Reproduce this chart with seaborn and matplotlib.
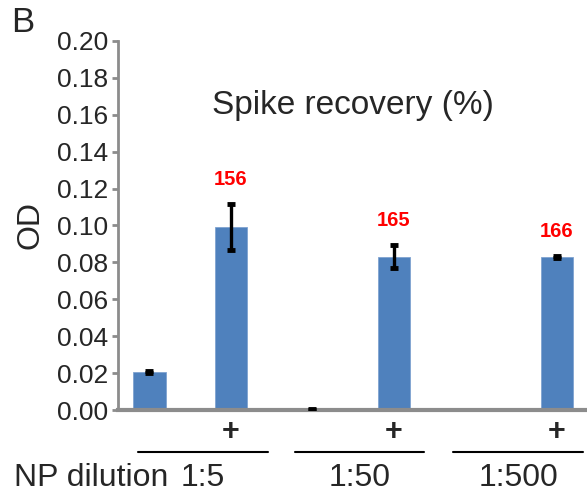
import matplotlib
matplotlib.use("Agg")
import matplotlib.pyplot as plt
import matplotlib.transforms as mtransforms
import seaborn as sns
import pandas as pd

# ---- data ----
conditions = ["1:5 -", "1:5 +", "1:50 -", "1:50 +", "1:500 -", "1:500 +"]
od_values = [0.0205, 0.099, 0.0005, 0.083, 0.0, 0.083]
od_errors = [0.0006, 0.0125, 0.0003, 0.0063, 0.0, 0.0004]
spike_labels = ["", "156", "", "165", "", "166"]
spike_marks = ["", "+", "", "+", "", "+"]
dilutions = ["1:5", "1:50", "1:500"]
y_ticks = [0.00, 0.02, 0.04, 0.06, 0.08, 0.10, 0.12, 0.14, 0.16, 0.18, 0.20]

df = pd.DataFrame({"cond": conditions, "od": od_values, "err": od_errors})

sns.set_style("white")
plt.rcParams["font.family"] = ["Liberation Sans", "DejaVu Sans"]

fig = plt.figure(figsize=(5.87, 4.98), dpi=100)
ax = fig.add_axes([0.201, 0.1767, 0.797, 0.741])

sns.barplot(data=df, x="cond", y="od", color="#4F81BD", width=0.4,
            saturation=1, errorbar=None, ax=ax, edgecolor="#7FA3D1", linewidth=0.6)
idx = [i for i, e in enumerate(od_errors) if e > 0]
ax.errorbar(idx, [od_values[i] for i in idx], yerr=[od_errors[i] for i in idx],
            fmt="none", ecolor="black", elinewidth=2.4, capsize=3, capthick=3.5, zorder=5)

for i, lab in enumerate(spike_labels):
    if lab:
        ax.text(i, od_values[i] + od_errors[i] + 0.0135, lab, color="red",
                fontsize=14.5, fontweight="bold", ha="center", va="center")

ax.set_xlim(-0.386, 5.354)
ax.set_ylim(0, 0.20)
ax.set_yticks(y_ticks)
ax.set_yticklabels([f"{t:.2f}" for t in y_ticks], fontsize=19)
ax.set_xticks([])
ax.set_xlabel("")
ax.set_ylabel("")

for s in ["top", "right"]:
    ax.spines[s].set_visible(False)
ax.spines["left"].set_color("#8C8C8C")
ax.spines["left"].set_linewidth(2)
ax.spines["bottom"].set_color("#8C8C8C")
ax.spines["bottom"].set_linewidth(3)
ax.tick_params(axis="y", direction="out", length=4, width=2, color="#8C8C8C", pad=3, left=True)

ax.text(0.502, 0.824, "Spike recovery (%)", transform=ax.transAxes,
        fontsize=24, ha="center", va="center")

trans = mtransforms.blended_transform_factory(ax.transData, ax.transAxes)
for i, m in enumerate(spike_marks):
    if m:
        ax.text(i, -0.0596, m, transform=trans, fontsize=22, fontweight="bold",
                ha="center", va="center", clip_on=False)

line_spans = [(-0.14, 1.45), (1.78, 3.37), (3.73, 5.32)]
for (x0, x1), lab in zip(line_spans, dilutions):
    ax.plot([x0, x1], [-0.113, -0.113], transform=trans, color="black",
            lw=1.5, clip_on=False)
    ax.text((x0 + x1) / 2, -0.184, lab, transform=trans, fontsize=23,
            ha="center", va="center", clip_on=False)

fig.text(14 / 587, 1 - 478 / 498, "NP dilution", fontsize=23, ha="left", va="center")
fig.text(31 / 587, 1 - 225 / 498, "OD", fontsize=23, rotation=90, ha="center", va="center")
fig.text(11 / 587, 1 - 22 / 498, "B", fontsize=25, ha="left", va="center")

fig.savefig("out.png", dpi=100)
